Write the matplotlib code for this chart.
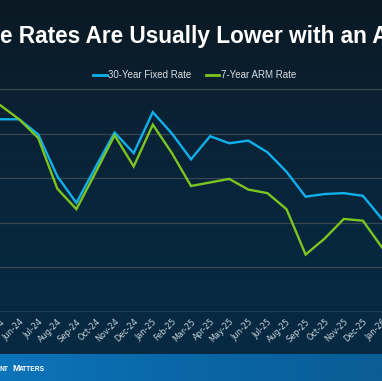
import numpy as np
import matplotlib
matplotlib.use("Agg")
import matplotlib.pyplot as plt
from matplotlib.lines import Line2D
from matplotlib.colors import LinearSegmentedColormap

months = ["May-24", "Jun-24", "Jul-24", "Aug-24", "Sep-24", "Oct-24", "Nov-24", "Dec-24",
          "Jan-25", "Feb-25", "Mar-25", "Apr-25", "May-25", "Jun-25", "Jul-25", "Aug-25",
          "Sep-25", "Oct-25", "Nov-25", "Dec-25", "Jan-26"]
fixed30 = [7.16, 7.16, 6.99, 6.52, 6.22, 6.62, 7.01, 6.78, 7.24, 7.00, 6.71, 6.97,
           6.89, 6.92, 6.79, 6.57, 6.29, 6.32, 6.33, 6.30, 6.04]
arm7 = [7.32, 7.16, 6.95, 6.38, 6.15, 6.56, 6.98, 6.63, 7.10, 6.78, 6.41, 6.45,
        6.49, 6.37, 6.33, 6.15, 5.64, 5.82, 6.04, 6.02, 5.72]
yticks = [5.0, 5.5, 6.0, 6.5, 7.0, 7.5]

W, H = 382, 381
fig = plt.figure(figsize=(W / 100, H / 100), dpi=100)

# background gradient
bg = fig.add_axes([0, 0, 1, 1], zorder=-10)
bg.set_axis_off()
cmap_v = LinearSegmentedColormap.from_list("v", ["#0b1923", "#0a2236", "#06283f", "#072a44"])
grad = np.linspace(0, 1, 256).reshape(-1, 1)
bg.imshow(grad, aspect="auto", cmap=cmap_v, extent=[0, W, H, 0])
# banner
cmap_h = LinearSegmentedColormap.from_list("h", ["#0c74ba", "#0a66a6", "#0a5d95"])
gradh = np.linspace(0, 1, 256).reshape(1, -1)
bg.imshow(gradh, aspect="auto", cmap=cmap_h, extent=[0, W, H, 354])
bg.set_xlim(0, W)
bg.set_ylim(H, 0)

# plot axes
top_px, bot_px = 89, 311.5
ax = fig.add_axes([0, (H - bot_px) / H, 1, (bot_px - top_px) / H])
ax.set_facecolor("none")
x = np.arange(len(months))
x0 = 11.7 / 20
ax.set_xlim(x0, x0 + W / 20)
ax.set_ylim(yticks[0], yticks[-1])
for v in yticks[1:]:
    ax.axhline(v, color="#3a4752", lw=0.9, zorder=1)
ax.axhline(yticks[0], color="#8797a3", lw=1.0, zorder=1)

ax.plot(x, fixed30, color="#10b0ec", lw=1.7, zorder=3, solid_joinstyle="miter")
ax.plot(x, arm7, color="#7cc41f", lw=1.7, zorder=3, solid_joinstyle="miter")

for s in ax.spines.values():
    s.set_visible(False)
ax.set_yticks([])
ax.set_xticks(x)
ax.set_xticklabels(months, rotation=45, ha="right", rotation_mode="anchor",
                   fontsize=5.9, color="#c9d3db", family="DejaVu Sans")
ax.tick_params(axis="x", length=0, pad=4)

# title
fig.text(0 / W, 1 - 36 / H, "e Rates Are Usually Lower with an A", ha="left", va="center",
         fontsize=16.3, fontweight="bold", color="white", family="Liberation Sans")

# legend
handles = [Line2D([], [], color="#10b0ec", lw=2), Line2D([], [], color="#7cc41f", lw=2)]
fig.legend(handles, ["30-Year Fixed Rate", "7-Year ARM Rate"], loc="center",
           bbox_to_anchor=(195 / W, 1 - 75 / H), ncol=2, frameon=False,
           prop={"family": "Liberation Sans", "size": 7}, labelcolor="#d9dee3",
           handlelength=1.35, handletextpad=0.2, columnspacing=1.5)

# footer text
fig.text(0 / W, 1 - 371 / H, "NT", ha="left", va="baseline", fontsize=4.8,
         fontweight="bold", color="white", family="Liberation Sans")
fig.text(12.5 / W, 1 - 371 / H, "M", ha="left", va="baseline", fontsize=6.3,
         fontweight="bold", color="white", family="Liberation Sans")
fig.text(19.3 / W, 1 - 371 / H, "ATTERS", ha="left", va="baseline", fontsize=4.8,
         fontweight="bold", color="white", family="Liberation Sans")

fig.savefig("out.png", dpi=100)
